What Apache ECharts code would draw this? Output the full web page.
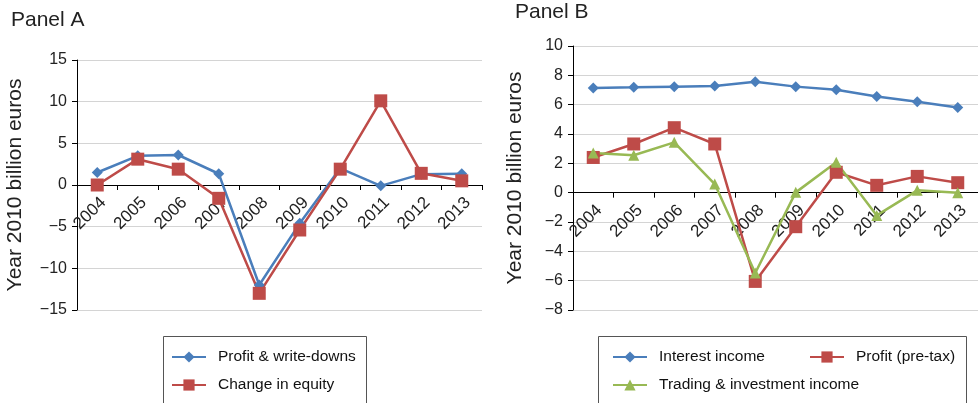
<!DOCTYPE html>
<html><head><meta charset="utf-8">
<script src="https://cdn.jsdelivr.net/npm/echarts@6/dist/echarts.min.js"></script>
<style>html,body{margin:0;padding:0;background:#fff}#c{width:978px;height:403px}</style>
</head><body><div id="c"></div>
<script>
const years = ['2004','2005','2006','2007','2008','2009','2010','2011','2012','2013'];
const profitWriteDowns = [1.5, 3.5, 3.6, 1.35, -12.0, -4.6, 2.0, -0.1, 1.3, 1.35];
const changeInEquity = [0.0, 3.1, 1.9, -1.6, -13.0, -5.4, 1.9, 10.1, 1.4, 0.5];
const interestIncome = [7.14, 7.18, 7.23, 7.27, 7.57, 7.23, 7.02, 6.55, 6.2, 5.8];
const profitPreTax = [2.4, 3.32, 4.43, 3.32, -6.05, -2.32, 1.39, 0.5, 1.11, 0.68];
const tradingIncome = [2.7, 2.55, 3.43, 0.59, -5.48, 0.02, 2.07, -1.55, 0.16, 0.0];
const yTicksA = {min: -15, max: 15, interval: 5};
const yTicksB = {min: -8, max: 10, interval: 2};

const FONT = 'Liberation Sans, Arial, Helvetica, sans-serif';
const BLUE = '#4A7EBB', RED = '#BE4B48', GREEN = '#98B954';
const gridA = {left: 77, top: 60, width: 405, height: 250};
const gridB = {left: 573, top: 46, width: 405, height: 264};
const chart = echarts.init(document.getElementById('c'), null, {renderer: 'canvas'});

function yAxis(idx, t, gap) {
  return {
    type: 'value', gridIndex: idx, min: t.min, max: t.max, interval: t.interval,
    name: 'Year 2010 billion euros', nameLocation: 'middle', nameGap: gap,
    nameTextStyle: {fontSize: 21, color: '#222', fontFamily: FONT},
    axisLine: {show: true, lineStyle: {color: '#000', width: 1}},
    axisTick: {show: true, length: 5, lineStyle: {color: '#000'}},
    axisLabel: {fontSize: 16, color: '#222', fontFamily: FONT, margin: 10,
      formatter: v => String(v).replace('-', '\u2212')},
    splitLine: {show: true, lineStyle: {color: '#d4d4d4', width: 1}}
  };
}
// place the category axis on the value-axis zero line (offset from grid bottom)
function xAxis(idx, t, g) {
  const zeroOffset = -g.height * (0 - t.min) / (t.max - t.min);
  return {
    type: 'category', gridIndex: idx, data: years, boundaryGap: true,
    position: 'bottom', offset: zeroOffset,
    axisLine: {show: true, onZero: false, lineStyle: {color: '#000', width: 1}},
    axisTick: {show: true, length: 5, inside: false, lineStyle: {color: '#000'}},
    axisLabel: {interval: 0, rotate: 45, fontSize: 17, color: '#222', fontFamily: FONT,
      margin: 9, verticalAlign: 'top'},
    splitLine: {show: false}
  };
}
function line(name, data, color, symbol, size, xi) {
  return {
    name, type: 'line', data, xAxisIndex: xi, yAxisIndex: xi,
    symbol, symbolSize: size, showSymbol: true,
    lineStyle: {color, width: 2.5}, itemStyle: {color},
    emphasis: {disabled: true}, animation: false
  };
}
function legend(name, left, top) {
  return {
    data: [name], left, top, padding: 0, itemWidth: 34, itemHeight: 14,
    textStyle: {fontSize: 15.5, color: '#111', fontFamily: FONT, padding: [0, 0, 0, 7]},
    selectedMode: false
  };
}

chart.setOption({
  animation: false,
  backgroundColor: '#fff',
  textStyle: {fontFamily: FONT},
  title: [
    {text: 'Panel A', left: 6, top: 5, textStyle: {fontSize: 21, fontWeight: 'normal', color: '#222', fontFamily: FONT}},
    {text: 'Panel B', left: 510, top: -3, textStyle: {fontSize: 21, fontWeight: 'normal', color: '#222', fontFamily: FONT}}
  ],
  grid: [
    Object.assign({containLabel: false}, gridA),
    Object.assign({containLabel: false}, gridB)
  ],
  xAxis: [xAxis(0, yTicksA, gridA), xAxis(1, yTicksB, gridB)],
  yAxis: [yAxis(0, yTicksA, 51), yAxis(1, yTicksB, 47)],
  legend: [
    legend('Profit & write-downs', 171, 349),
    legend('Change in equity', 171, 377),
    legend('Interest income', 612, 349),
    legend('Profit (pre-tax)', 809, 349),
    legend('Trading & investment income', 612, 377)
  ],
  graphic: [
    {type: 'rect', shape: {x: 163.5, y: 336.5, width: 203, height: 80}, style: {fill: 'none', stroke: '#555', lineWidth: 1}, silent: true},
    {type: 'rect', shape: {x: 598.5, y: 336.5, width: 368, height: 80}, style: {fill: 'none', stroke: '#555', lineWidth: 1}, silent: true}
  ],
  series: [
    line('Profit & write-downs', profitWriteDowns, BLUE, 'diamond', 11, 0),
    line('Change in equity', changeInEquity, RED, 'rect', 13, 0),
    line('Interest income', interestIncome, BLUE, 'diamond', 11, 1),
    line('Profit (pre-tax)', profitPreTax, RED, 'rect', 13, 1),
    line('Trading & investment income', tradingIncome, GREEN, 'triangle', 11, 1)
  ]
});
</script></body></html>
